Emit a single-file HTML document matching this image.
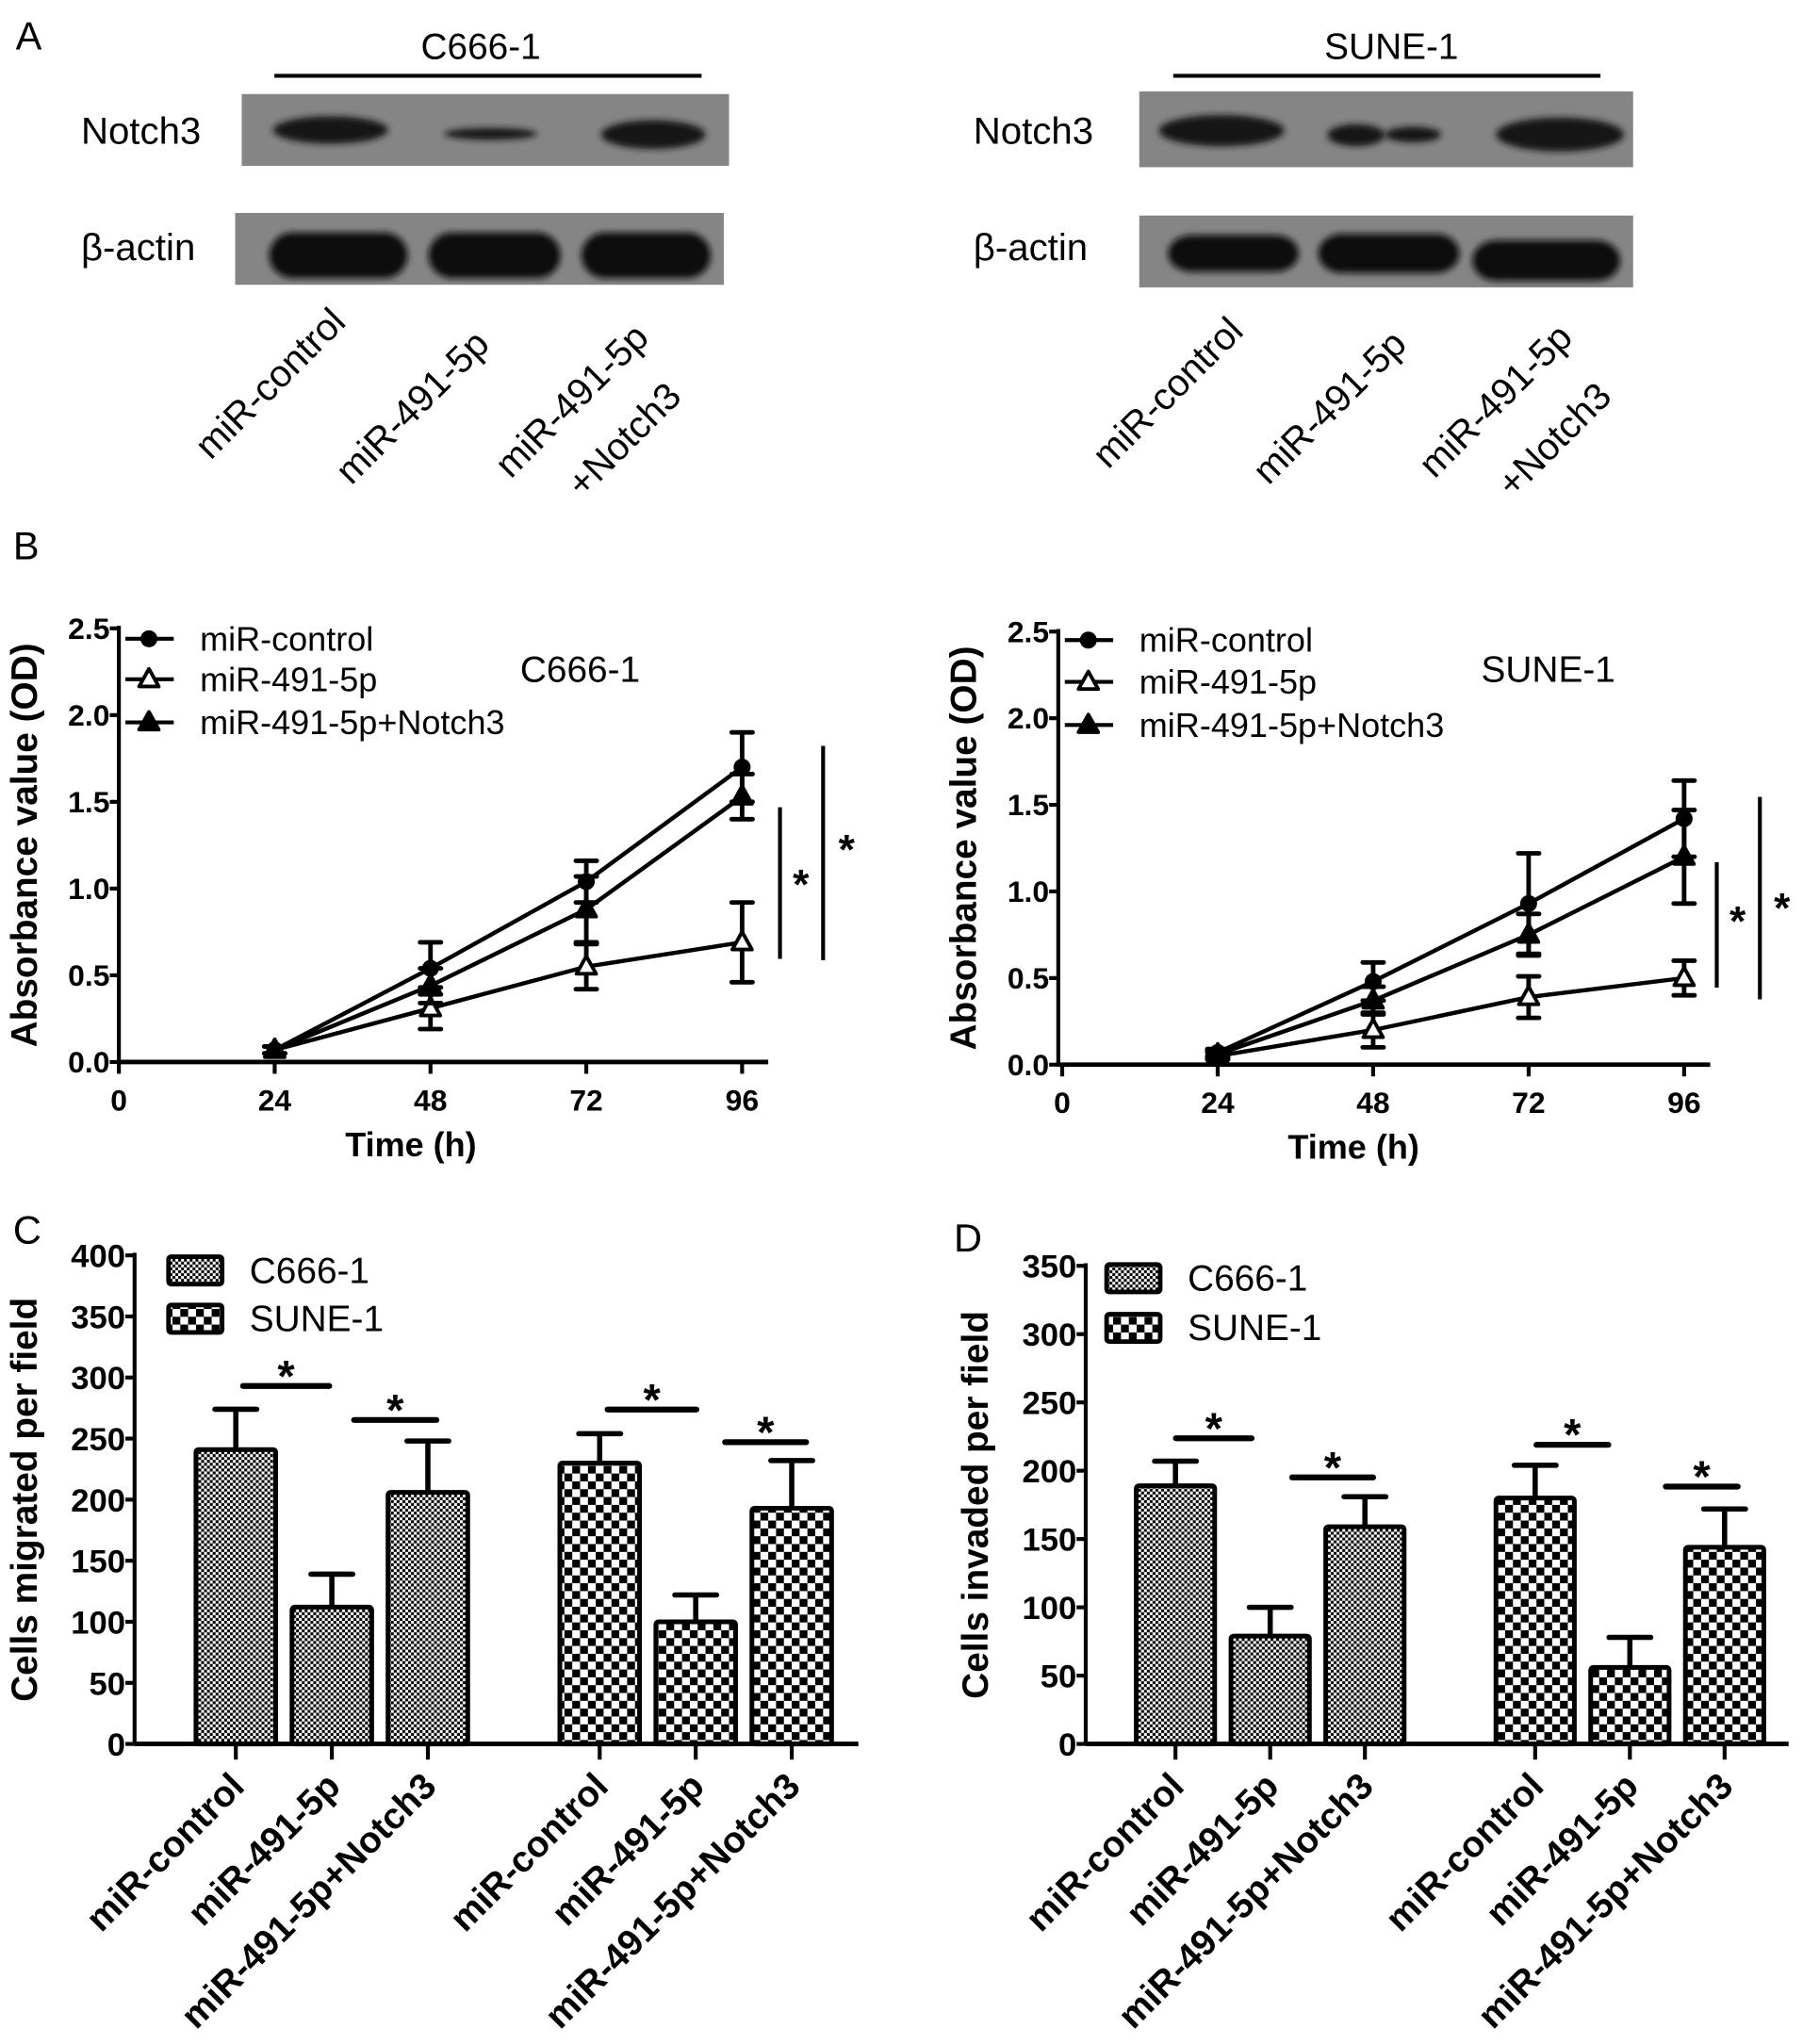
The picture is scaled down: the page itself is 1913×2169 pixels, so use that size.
<!DOCTYPE html>
<html><head><meta charset="utf-8"><style>
html,body{margin:0;padding:0;background:#fff;}
svg{display:block;font-family:"Liberation Sans",Arial,sans-serif;}
</style></head><body>
<svg id="fig" xmlns="http://www.w3.org/2000/svg" width="1913" height="2169" viewBox="0 0 1380 1564.7" preserveAspectRatio="none">
<defs>
<pattern id="pC" width="4.4" height="4.4" patternUnits="userSpaceOnUse"><rect width="4.4" height="4.4" fill="#fff"/><rect width="2.2" height="2.2" fill="#000"/><rect x="2.2" y="2.2" width="2.2" height="2.2" fill="#000"/></pattern>
<pattern id="pS" width="12" height="12" patternUnits="userSpaceOnUse"><rect width="12" height="12" fill="#fff"/><rect width="6" height="6" fill="#000"/><rect x="6" y="6" width="6" height="6" fill="#000"/></pattern>
<filter id="blur" x="-20%" y="-50%" width="140%" height="200%"><feGaussianBlur stdDeviation="2.5"/></filter>
</defs>
<g id="root"></g>
</svg>
<script>
// ---- Panel B data ----
const timeTicks = [0, 24, 48, 72, 96];
const odTicks = [0, 0.5, 1.0, 1.5, 2.0, 2.5];
const odTickLabels = ["0.0", "0.5", "1.0", "1.5", "2.0", "2.5"];
const bTimes = [24, 48, 72, 96];
const bLeftControl = [0.07, 0.54, 1.04, 1.70];
const bLeftControlErr = [0.02, 0.15, 0.12, 0.20];
const bLeft491 = [0.07, 0.31, 0.55, 0.69];
const bLeft491Err = [0.02, 0.12, 0.13, 0.23];
const bLeftNotch = [0.07, 0.44, 0.88, 1.53];
const bLeftNotchErr = [0.02, 0.10, 0.19, 0.13];
const bRightControl = [0.07, 0.48, 0.93, 1.42];
const bRightControlErr = [0.02, 0.11, 0.29, 0.22];
const bRight491 = [0.05, 0.20, 0.39, 0.50];
const bRight491Err = [0.02, 0.10, 0.12, 0.10];
const bRightNotch = [0.06, 0.37, 0.75, 1.20];
const bRightNotchErr = [0.02, 0.08, 0.12, 0.27];
// ---- Panel C / D data ----
const barCategories = ["miR-control", "miR-491-5p", "miR-491-5p+Notch3"];
const migTicks = [0, 50, 100, 150, 200, 250, 300, 350, 400];
const migC666 = [241, 112, 206];
const migC666Err = [33, 27, 42];
const migSune = [230, 100, 193];
const migSuneErr = [24, 22, 39];
const invTicks = [0, 50, 100, 150, 200, 250, 300, 350];
const invC666 = [189, 79, 159];
const invC666Err = [18, 21, 22];
const invSune = [180, 56, 144];
const invSuneErr = [24, 22, 28];

const NS = "http://www.w3.org/2000/svg";
const root = document.getElementById('root');
function mk(tag, attrs, parent) {
  const e = document.createElementNS(NS, tag);
  for (const k in attrs) e.setAttribute(k, attrs[k]);
  (parent || root).appendChild(e);
  return e;
}
function txt(s, attrs, parent) { const e = mk('text', attrs, parent); e.textContent = s; return e; }

// ---------- Panel A ----------
function blot(gx, labels, opts) {
  const g = mk('g', {});
  
  
  let t = txt(opts.cell, {x: opts.cellX, y: 45, 'font-size': 28, 'text-anchor': 'middle'}, g);
  
  
  let l = mk('line', {x1: opts.lineX1, x2: opts.lineX2, y1: 58, y2: 58, stroke: '#000', 'stroke-width': 3}, g);
  
  
  let r = mk('rect', {x: opts.n[0], y: opts.n[1], width: opts.n[2], height: opts.n[3], fill: '#858585'}, g);
  
  
  opts.nb.forEach(b => {
    const e = mk('ellipse', {cx: (b[0]+b[1])/2, cy: (b[2]+b[3])/2, rx: (b[1]-b[0])/2, ry: (b[3]-b[2])/2, fill: '#141414', filter: 'url(#blur)'}, g);
    
    
  });
  r = mk('rect', {x: opts.a[0], y: opts.a[1], width: opts.a[2], height: opts.a[3], fill: '#858585'}, g);
  
  
  opts.ab.forEach(b => {
    const e = mk('rect', {x: b[0], y: b[2], width: b[1]-b[0], height: b[3]-b[2], rx: 18, fill: '#111', filter: 'url(#blur)'}, g);
    
    
  });
  t = txt('Notch3', {x: opts.labX, y: 110, 'font-size': 29}, g);
  
  
  t = txt('β-actin', {x: opts.labX, y: 199, 'font-size': 29}, g);
  
  
  labels.forEach(lb => {
    const e = txt(lb[0], {x: lb[1], y: lb[2], 'font-size': 29, 'text-anchor': 'end', transform: `rotate(-45 ${lb[1]} ${lb[2]})`}, g);
    
    
  });
}
let pa = txt('A', {x: 12, y: 38, 'font-size': 30});


blot(0, [['miR-control', 266, 248], ['miR-491-5p', 376, 265], ['miR-491-5p', 498, 260], ['+Notch3', 523, 305]], {
  name: 'blot-c666', cell: 'C666-1', cellX: 368, lineX1: 210, lineX2: 537,
  n: [185, 72, 373, 55], a: [180, 163, 374, 55], labX: 62,
  nb: [[209, 297, 89, 110], [340, 411, 98, 107], [460, 540, 92, 114]],
  ab: [[206, 312, 178, 213], [328, 429, 178, 213], [445, 544, 178, 213]]
});
blot(0, [['miR-control', 953, 255], ['miR-491-5p', 1078, 265], ['miR-491-5p', 1205, 260], ['+Notch3', 1235, 305]], {
  name: 'blot-sune', cell: 'SUNE-1', cellX: 1065, lineX1: 898, lineX2: 1225,
  n: [872, 70, 378, 58], a: [872, 165, 378, 55], labX: 745,
  nb: [[887, 983, 88, 112], [1016, 1060, 95, 112], [1060, 1103, 97, 109], [1145, 1243, 90, 116]],
  ab: [[894, 994, 180, 208], [1009, 1117, 179, 209], [1127, 1240, 184, 215]]
});

// ---------- Panel B ----------
function lineChart(o) {
  const g = mk('g', {});
  
  
  const X = t => o.x0 + t * (o.x96 - o.x0) / 96;
  const Y = v => o.y0 - v * (o.y0 - o.y25) / 2.5;
  let e = mk('line', {x1: o.ax, x2: o.ax, y1: Y(2.5) - 2, y2: Y(0) + 1.5, stroke: '#000', 'stroke-width': 3}, g);
  
  
  e = mk('line', {x1: o.ax, x2: o.xEnd, y1: Y(0), y2: Y(0), stroke: '#000', 'stroke-width': 3.5}, g);
  
  
  odTicks.forEach((v, i) => {
    const tk = mk('line', {x1: o.ax - 7, x2: o.ax, y1: Y(v), y2: Y(v), stroke: '#000', 'stroke-width': 3}, g);
    
    
    const tl = txt(odTickLabels[i], {x: o.ax - 7, y: Y(v) + 8, 'font-size': 23, 'font-weight': 'bold', 'text-anchor': 'end'}, g);
    
    
  });
  timeTicks.forEach(t => {
    const tk = mk('line', {x1: X(t), x2: X(t), y1: Y(0), y2: Y(0) + 9, stroke: '#000', 'stroke-width': 3}, g);
    
    
    const tl = txt(String(t), {x: X(t), y: Y(0) + 37, 'font-size': 23, 'font-weight': 'bold', 'text-anchor': 'middle'}, g);
    
    
  });
  const xt = txt('Time (h)', {x: X(48) - 15, y: Y(0) + 72, 'font-size': 26, 'font-weight': 'bold', 'text-anchor': 'middle'}, g);
  
  
  const cy = (Y(0) + Y(2.5)) / 2;
  const yt = txt('Absorbance value (OD)', {x: o.ax - 63, y: cy, 'font-size': 28, 'font-weight': 'bold', 'text-anchor': 'middle', transform: `rotate(-90 ${o.ax - 63} ${cy})`}, g);
  
  
  function marker(kind, x, y, par) {
    let m;
    if (kind === 'circle') m = mk('circle', {cx: x, cy: y, r: 6.5, fill: '#000'}, par);
    else m = mk('polygon', {points: `${x},${y-8} ${x-7.5},${y+5.5} ${x+7.5},${y+5.5}`, fill: kind === 'open' ? '#fff' : '#000', stroke: '#000', 'stroke-width': 2.8, 'stroke-linejoin': 'round'}, par);
    return m;
  }
  const series = [
    {vals: o.s[0], err: o.e[0], kind: 'circle', name: 'series-mir-control'},
    {vals: o.s[1], err: o.e[1], kind: 'open', name: 'series-mir-491-5p'},
    {vals: o.s[2], err: o.e[2], kind: 'filled', name: 'series-mir-491-5p-notch3'}
  ];
  series.forEach(s => {
    const sg = mk('g', {}, g);
    
    
    const pts = bTimes.map((t, i) => `${X(t)},${Y(s.vals[i])}`).join(' ');
    const pl = mk('polyline', {points: pts, fill: 'none', stroke: '#000', 'stroke-width': 3.2}, sg);
    
    
    bTimes.forEach((t, i) => {
      const x = X(t), lo = Y(s.vals[i] - s.err[i]), hi = Y(s.vals[i] + s.err[i]);
      const eb = mk('path', {d: `M${x},${lo}V${hi}M${x-8},${lo}H${x+8}M${x-8},${hi}H${x+8}`, stroke: '#000', 'stroke-width': 3.5, fill: 'none', 'stroke-linecap': 'round'}, sg);
      
      
      const m = marker(s.kind, x, Y(s.vals[i]), sg);
      
      
    });
  });
  const names = ['miR-control', 'miR-491-5p', 'miR-491-5p+Notch3'];
  const kinds = ['circle', 'open', 'filled'];
  names.forEach((n, i) => {
    const lg = mk('g', {}, g);
    
    
    const ly = o.legY[i];
    mk('line', {x1: o.ax + 5, x2: o.ax + 42, y1: ly, y2: ly, stroke: '#000', 'stroke-width': 3}, lg);
    marker(kinds[i], o.ax + 23, ly, lg);
    txt(n, {x: o.ax + 62, y: ly + 9, 'font-size': 26}, lg);
  });
  const ct = txt(o.cell, {x: o.cellX, y: 522, 'font-size': 28, 'text-anchor': 'middle'}, g);
  
  
  o.sig.forEach(sg => {
    const sl = mk('line', {x1: sg[0], x2: sg[0], y1: sg[1], y2: sg[2], stroke: '#000', 'stroke-width': 3}, g);
    
    
    const st = txt('*', {x: sg[3], y: sg[4] + 16, 'font-size': 32, 'font-weight': 'bold', 'text-anchor': 'middle'}, g);
    
    
  });
}
let pb = txt('B', {x: 10, y: 428, 'font-size': 30});


lineChart({name: 'growth-chart-c666', x0: 91, x96: 568, ax: 91, xEnd: 588, y0: 813, y25: 481,
  s: [bLeftControl, bLeft491, bLeftNotch], e: [bLeftControlErr, bLeft491Err, bLeftNotchErr],
  legY: [489, 520, 553], cell: 'C666-1', cellX: 444,
  sig: [[597, 618, 734, 613, 672], [630, 571, 735, 648, 645]]});
lineChart({name: 'growth-chart-sune', x0: 813, x96: 1289, ax: 810, xEnd: 1309, y0: 815, y25: 483.5,
  s: [bRightControl, bRight491, bRightNotch], e: [bRightControlErr, bRight491Err, bRightNotchErr],
  legY: [490, 522, 555], cell: 'SUNE-1', cellX: 1185,
  sig: [[1314, 660, 756, 1330, 700], [1347, 610, 765, 1364, 690]]});

// ---------- Panels C, D ----------
function barChart(o) {
  const g = mk('g', {});
  
  
  const Y = v => o.y0 - v * (o.y0 - o.yTop) / o.max;
  let e = mk('line', {x1: o.ax, x2: o.ax, y1: Y(o.max) - 2, y2: Y(0), stroke: '#000', 'stroke-width': 3}, g);
  
  
  o.ticks.forEach(v => {
    const tk = mk('line', {x1: o.ax - 7, x2: o.ax, y1: Y(v), y2: Y(v), stroke: '#000', 'stroke-width': 3}, g);
    
    
    const tl = txt(String(v), {x: o.ax - 7, y: Y(v) + 9, 'font-size': 25, 'font-weight': 'bold', 'text-anchor': 'end'}, g);
    
    
  });
  const cy = (Y(0) + Y(o.max)) / 2;
  const yt = txt(o.ytitle, {x: o.ax - 75, y: cy, 'font-size': 28, 'font-weight': 'bold', 'text-anchor': 'middle', transform: `rotate(-90 ${o.ax - 75} ${cy})`}, g);
  
  
  const groups = [{vals: o.c, err: o.ce, fill: 'url(#pC)', start: o.g1, nm: 'c666'}, {vals: o.s, err: o.se, fill: 'url(#pS)', start: o.g2, nm: 'sune'}];
  groups.forEach(gr => {
    gr.vals.forEach((v, i) => {
      const x = gr.start + i * o.step, cx = x + o.w / 2;
      const eb = mk('path', {d: `M${cx},${Y(v)}V${Y(v + gr.err[i])}M${cx-16},${Y(v + gr.err[i])}H${cx+16}`, stroke: '#000', 'stroke-width': 4, 'stroke-linecap': 'round', fill: 'none'}, g);
      
      
      const b = mk('rect', {x: x, y: Y(v), width: o.w, height: Y(0) - Y(v), fill: gr.fill, stroke: '#000', 'stroke-width': 3.6, rx: 2}, g);
      
      
      const tk = mk('line', {x1: cx, x2: cx, y1: Y(0), y2: Y(0) + 12, stroke: '#000', 'stroke-width': 3}, g);
      
      
      const lx = cx + 8, ly = Y(0) + 34;
      const tl = txt(barCategories[i], {x: lx, y: ly, 'font-size': 28, 'font-weight': 'bold', 'text-anchor': 'end', transform: `rotate(-45 ${lx} ${ly})`}, g);
      
      
    });
  });
  e = mk('line', {x1: o.ax, x2: o.xEnd, y1: Y(0), y2: Y(0), stroke: '#000', 'stroke-width': 3.5}, g);
  
  
  [['C666-1', 'url(#pC)'], ['SUNE-1', 'url(#pS)']].forEach((lg, i) => {
    const lgg = mk('g', {}, g);
    
    
    mk('rect', {x: o.legX, y: o.legY[i], width: 41, height: 21, fill: lg[1], stroke: '#000', 'stroke-width': 3.5, rx: 2}, lgg);
    txt(lg[0], {x: o.legX + 62, y: o.legY[i] + 20, 'font-size': 28}, lgg);
  });
  o.sig.forEach(sg => {
    const sl = mk('line', {x1: sg[0], x2: sg[1], y1: sg[2], y2: sg[2], stroke: '#000', 'stroke-width': 4.5, 'stroke-linecap': 'round'}, g);
    
    
    const st = txt('*', {x: (sg[0] + sg[1]) / 2, y: sg[2] + 4, 'font-size': 34, 'font-weight': 'bold', 'text-anchor': 'middle'}, g);
    
    
  });
}
let pc = txt('C', {x: 10, y: 952, 'font-size': 30});


let pd = txt('D', {x: 730, y: 958, 'font-size': 30});


barChart({name: 'migration-chart', ax: 103, xEnd: 657, y0: 1335, yTop: 961, max: 400, ticks: migTicks,
  ytitle: 'Cells migrated per field', c: migC666, ce: migC666Err, s: migSune, se: migSuneErr,
  g1: 150, g2: 428.5, step: 73.5, w: 61, legX: 129, legY: [962, 999],
  sig: [[186, 252, 1061], [271, 334, 1087], [465, 533, 1079], [555, 617, 1104]]});
barChart({name: 'invasion-chart', ax: 831, xEnd: 1369, y0: 1335, yTop: 969, max: 350, ticks: invTicks,
  ytitle: 'Cells invaded per field', c: invC666, ce: invC666Err, s: invSune, se: invSuneErr,
  g1: 869.7, g2: 1145, step: 72.5, w: 60, legX: 847, legY: [968, 1006],
  sig: [[900, 958, 1101], [989, 1051, 1131], [1176, 1231, 1106], [1275, 1330, 1138]]});
</script>
</body></html>
